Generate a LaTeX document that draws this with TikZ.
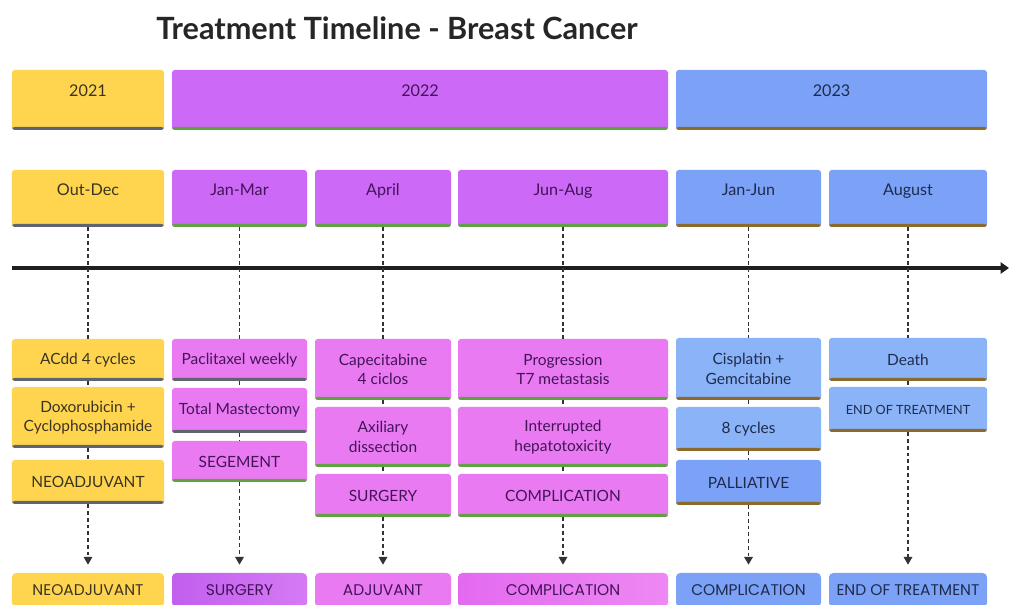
\documentclass[tikz,border=0pt]{standalone}
\usepackage{fontspec}
\setmainfont{Lato}
\newfontfamily\phasefont{Poppins}
\usepackage{tikz}
\usetikzlibrary{arrows.meta}
\usetikzlibrary{calc}

\definecolor{goldfill}{HTML}{FFD54F}
\definecolor{violetfill}{HTML}{CC69F6}
\definecolor{pinkfill}{HTML}{E97AF2}
\definecolor{bluefill}{HTML}{7BA2F7}
\definecolor{skyfill}{HTML}{8BB3F8}
\definecolor{violetleft}{HTML}{C25FEE}
\definecolor{violetright}{HTML}{D57AF5}
\definecolor{pinkleft}{HTML}{E36AF0}
\definecolor{pinkright}{HTML}{EE88F3}
\definecolor{goldtext}{HTML}{3A3423}
\definecolor{violettext}{HTML}{431458}
\definecolor{bluetext}{HTML}{1F2B4D}
\definecolor{grayline}{HTML}{5F6570}
\definecolor{greenline}{HTML}{62A044}
\definecolor{brownline}{HTML}{8C6A2C}
\definecolor{linkgray}{HTML}{333333}

\begin{document}
\begin{tikzpicture}[
        title_style/.style={font=\bfseries\fontsize{21.8}{26}\selectfont, text=black!85},
        box_style/.style={rounded corners=2pt, inner sep=0pt, align=center, font=\fontsize{11}{14}\selectfont},
        head_style/.style={box_style, font=\fontsize{11.5}{13}\selectfont, text height=0.3cm, text depth=0.47cm},
        base_line/.style={path picture={\fill[#1] ([yshift=2.2pt]path picture bounding box.south west) rectangle (path picture bounding box.south east);}},
        gold_box/.style={fill=goldfill, text=goldtext, base_line=grayline},
        violet_box/.style={fill=violetfill, text=violettext, base_line=greenline},
        pink_box/.style={fill=pinkfill, text=violettext, base_line=greenline},
        pinkgray_box/.style={fill=pinkfill, text=violettext, base_line=grayline},
        blue_box/.style={fill=bluefill, text=bluetext, base_line=brownline},
        sky_box/.style={fill=skyfill, text=bluetext, base_line=brownline},
        phase_style/.style={rounded corners=3pt, inner sep=0pt, minimum height=0.85cm, font=\phasefont\fontsize{11}{13}\selectfont},
        timeline_style/.style={draw=black!88, line width=2.2pt, -{Triangle[width=8pt,length=6pt]}},
        link_style/.style={draw=linkgray, line width=1.1pt, dash pattern=on 2.8pt off 2pt},
        arrow_style/.style={link_style, shorten >=0.2cm, -{Triangle[width=6pt,length=5.5pt]}}]

        \clip (0,0) rectangle (25.225,15.125);
        \fill [white] (0,0) rectangle (25.225,15.125);

        \node [title_style](title) at (9.925,14.425) {Treatment Timeline - Breast Cancer};

        \node [head_style, gold_box, minimum width=3.8cm, minimum height=1.5cm](y1) at (2.2,12.625) {2021};

        \node [head_style, violet_box, minimum width=12.4cm, minimum height=1.5cm](y2) at (10.5,12.625) {2022};

        \node [head_style, blue_box, minimum width=7.775cm, minimum height=1.5cm](y3) at (20.7875,12.625) {2023};

        \node [head_style, gold_box, minimum width=3.8cm, minimum height=1.425cm](m1) at (2.2,10.1625) {Out-Dec};

        \node [head_style, violet_box, minimum width=3.375cm, minimum height=1.425cm](m2) at (5.9875,10.1625) {Jan-Mar};

        \node [head_style, violet_box, minimum width=3.4cm, minimum height=1.425cm](m3) at (9.575,10.1625) {April};

        \node [head_style, violet_box, minimum width=5.25cm, minimum height=1.425cm](m4) at (14.075,10.1625) {Jun-Aug};

        \node [head_style, blue_box, minimum width=3.625cm, minimum height=1.425cm](m5) at (18.7125,10.1625) {Jan-Jun};

        \node [head_style, blue_box, minimum width=3.95cm, minimum height=1.425cm](m6) at (22.7,10.1625) {August};

        \coordinate (line_start) at (0.3,8.425);
        \coordinate (line_end) at (25.225,8.425);
        \draw [timeline_style] (line_start) -- (line_end);

        \node [box_style, gold_box, minimum width=3.8cm, minimum height=1.05cm](c1a) at (2.2,6.125) {ACdd 4 cycles};

        \node [box_style, gold_box, minimum width=3.8cm, minimum height=1.525cm](c1b) at (2.2,4.6875) {Doxorubicin +\\Cyclophosphamide};

        \node [box_style, gold_box, minimum width=3.8cm, minimum height=1.1cm](c1c) at (2.2,3.075) {NEOADJUVANT};

        \node [box_style, pinkgray_box, minimum width=3.375cm, minimum height=1.05cm](c2a) at (5.9875,6.125) {Paclitaxel weekly};

        \node [box_style, pinkgray_box, minimum width=3.375cm, minimum height=1.125cm](c2b) at (5.9875,4.8625) {Total Mastectomy};

        \node [box_style, pink_box, minimum width=3.375cm, minimum height=1.025cm](c2c) at (5.9875,3.5875) {SEGEMENT};

        \node [box_style, pink_box, minimum width=3.4cm, minimum height=1.525cm](c3a) at (9.575,5.8875) {Capecitabine\\4 ciclos};

        \node [box_style, pink_box, minimum width=3.4cm, minimum height=1.5cm](c3b) at (9.575,4.2) {Axiliary\\dissection};

        \node [box_style, pink_box, minimum width=3.4cm, minimum height=1.075cm](c3c) at (9.575,2.7375) {SURGERY};

        \node [box_style, pink_box, minimum width=5.25cm, minimum height=1.525cm](c4a) at (14.075,5.8875) {Progression\\T7 metastasis};

        \node [box_style, pink_box, minimum width=5.25cm, minimum height=1.5cm](c4b) at (14.075,4.2) {Interrupted\\hepatotoxicity};

        \node [box_style, pink_box, minimum width=5.25cm, minimum height=1.075cm](c4c) at (14.075,2.7375) {COMPLICATION};

        \node [box_style, sky_box, minimum width=3.625cm, minimum height=1.55cm](c5a) at (18.7125,5.9) {Cisplatin +\\Gemcitabine};

        \node [box_style, sky_box, minimum width=3.625cm, minimum height=1.1cm](c5b) at (18.7125,4.4) {8 cycles};

        \node [box_style, blue_box, minimum width=3.625cm, minimum height=1.125cm](c5c) at (18.7125,3.0625) {PALLIATIVE};

        \node [box_style, sky_box, minimum width=3.95cm, minimum height=1.075cm](c6a) at (22.7,6.1375) {Death};

        \node [box_style, sky_box, minimum width=3.95cm, minimum height=1.125cm, font=\fontsize{9}{11}\selectfont](c6b) at (22.7,4.8875) {END OF TREATMENT};

        \node [phase_style, fill=goldfill, text=goldtext, minimum width=3.8cm](p1) at (2.2,0.375) {NEOADJUVANT};

        \node [phase_style, left color=violetleft, right color=violetright, text=violettext, minimum width=3.375cm](p2) at (5.9875,0.375) {SURGERY};

        \node [phase_style, fill=pinkfill, text=violettext, minimum width=3.4cm](p3) at (9.575,0.375) {ADJUVANT};

        \node [phase_style, left color=pinkleft, right color=pinkright, text=violettext, minimum width=5.25cm](p4) at (14.075,0.375) {COMPLICATION};

        \node [phase_style, fill=bluefill, text=bluetext, minimum width=3.625cm](p5) at (18.7125,0.375) {COMPLICATION};

        \node [phase_style, fill=bluefill, text=bluetext, minimum width=3.95cm](p6) at (22.7,0.375) {END OF TREATMENT};

        \draw [link_style] (m1) -- (c1a);
        \draw [link_style] (c1a) -- (c1b);
        \draw [link_style] (c1b) -- (c1c);
        \draw [arrow_style] (c1c) -- (p1);

        \draw [link_style] (m2) -- (c2a);
        \draw [link_style] (c2a) -- (c2b);
        \draw [link_style] (c2b) -- (c2c);
        \draw [arrow_style] (c2c) -- (p2);

        \draw [link_style] (m3) -- (c3a);
        \draw [link_style] (c3a) -- (c3b);
        \draw [link_style] (c3b) -- (c3c);
        \draw [arrow_style] (c3c) -- (p3);

        \draw [link_style] (m4) -- (c4a);
        \draw [link_style] (c4a) -- (c4b);
        \draw [link_style] (c4b) -- (c4c);
        \draw [arrow_style] (c4c) -- (p4);

        \draw [link_style] (m5) -- (c5a);
        \draw [link_style] (c5a) -- (c5b);
        \draw [link_style] (c5b) -- (c5c);
        \draw [arrow_style] (c5c) -- (p5);

        \draw [link_style] (m6) -- (c6a);
        \draw [link_style] (c6a) -- (c6b);
        \draw [arrow_style] (c6b) -- (p6);

        \end{tikzpicture}
\end{document}
